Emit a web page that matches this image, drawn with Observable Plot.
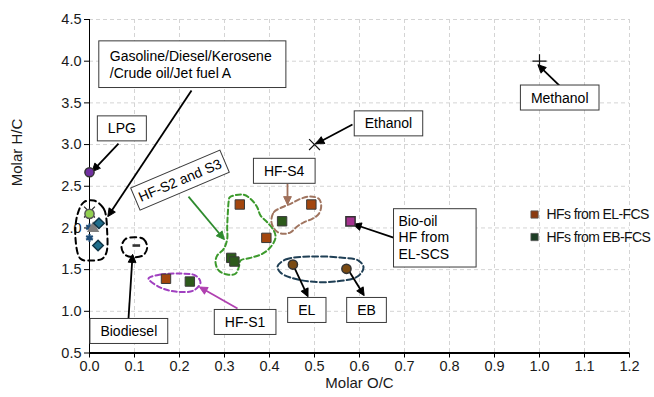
<!DOCTYPE html>
<html>
<head>
<meta charset="utf-8">
<script src="https://cdn.jsdelivr.net/npm/d3@7"></script>
<script src="https://cdn.jsdelivr.net/npm/@observablehq/plot@0.6"></script>
<style>
  html, body { margin: 0; padding: 0; background: #fff; overflow: hidden; }
  g[aria-description="legend"] text { letter-spacing: -0.6px; }
</style>
</head>
<body>
<div id="chart"></div>
<script>
// ---------- data ----------
const xTicks = [0.0, 0.1, 0.2, 0.3, 0.4, 0.5, 0.6, 0.7, 0.8, 0.9, 1.0, 1.1, 1.2];
const yTicks = [0.5, 1.0, 1.5, 2.0, 2.5, 3.0, 3.5, 4.0, 4.5];

// reference fuels and feedstocks (molar O/C, molar H/C)
const fuelNames = ["Crude oil", "LPG", "Gasoline", "Diesel", "Jet fuel A", "Kerosene", "Fuel oil A", "Fuel oil B",
                   "Biodiesel", "Ethanol", "Methanol", "Bio-oil HF from EL-SCS", "EL", "EB"];
const fuelOC = [0.000, 0.000, 0.000, 0.000, 0.000, 0.008, 0.021, 0.019, 0.104, 0.500, 1.000, 0.580, 0.452, 0.571];
const fuelHC = [2.190, 2.668, 2.169, 2.008, 1.881, 1.995, 2.056, 1.789, 1.789, 3.000, 4.000, 2.080, 1.561, 1.510];

// hydrothermal fractions
const elFcsOC = [0.170, 0.334, 0.393, 0.493];
const elFcsHC = [1.390, 2.281, 1.881, 2.281];
const ebFcsOC = [0.223, 0.315, 0.322, 0.428];
const ebFcsHC = [1.357, 1.641, 1.597, 2.080];

const seriesNames = ["HFs from EL-FCS", "HFs from EB-FCS"];

// annotation labels (anchor point in data units)
const labelTexts = ["Gasoline/Diesel/Kerosene\n/Crude oil/Jet fuel A", "LPG", "HF-S2 and S3", "HF-S4", "Ethanol",
                    "Methanol", "Bio-oil\nHF from\nEL-SCS", "EL", "EB", "Biodiesel", "HF-S1"];
const labelOC = [0.0451, 0.0719, 0.2013, 0.4326, 0.6644, 1.0449, 0.6867, 0.4827, 0.6156, 0.0874, 0.3456];
const labelHC = [3.968, 3.188, 2.568, 2.679, 3.248, 3.558, 1.891, 1.010, 1.010, 0.758, 0.866];

// arrows: from (OC1,HC1) to (OC2,HC2)
const arrowOf = ["Gasoline", "LPG", "HF-S2 and S3", "HF-S4", "Ethanol", "Methanol", "Bio-oil", "EL", "EB", "Biodiesel", "HF-S1"];
const arrowOC1 = [0.2267, 0.0644, 0.2200, 0.4400, 0.5844, 1.0444, 0.6756, 0.4511, 0.5733, 0.0867, 0.3289];
const arrowHC1 = [3.647, 3.012, 2.376, 2.529, 3.240, 3.707, 1.885, 1.573, 1.513, 0.914, 1.034];
const arrowOC2 = [0.0422, 0.0078, 0.2978, 0.4400, 0.5059, 0.9985, 0.5889, 0.4844, 0.6089, 0.0956, 0.2467];
const arrowHC2 = [2.149, 2.688, 1.873, 2.293, 3.016, 3.947, 2.041, 1.189, 1.201, 1.669, 1.285];

// dashed enclosures (outline points, O/C and H/C)
const petroOutlineOC = [0.0096, 0.0318, 0.0393, 0.0378, 0.0282, 0.0022, -0.0200, -0.0311, -0.0273, -0.0127];
const petroOutlineHC = [2.329, 2.229, 1.948, 1.709, 1.630, 1.609, 1.630, 1.869, 2.149, 2.308];
const biodieselOutlineOC = [0.100, 0.120, 0.1282, 0.120, 0.100, 0.080, 0.0711, 0.080];
const biodieselOutlineHC = [1.888, 1.867, 1.769, 1.675, 1.649, 1.675, 1.769, 1.867];
const s1OutlineOC = [0.1311, 0.1578, 0.2022, 0.2356, 0.2467, 0.2311, 0.1911, 0.1578];
const s1OutlineHC = [1.393, 1.441, 1.453, 1.429, 1.345, 1.249, 1.237, 1.285];
const s23OutlineOC = [0.3118, 0.3429, 0.3616, 0.3727, 0.3800, 0.3949, 0.4096, 0.4133, 0.4022, 0.3838, 0.3578, 0.3356,
                      0.3318, 0.3244, 0.3060, 0.2873, 0.2800, 0.2838, 0.2984, 0.3060, 0.3060, 0.3073, 0.3096];
const s23OutlineHC = [2.368, 2.397, 2.329, 2.248, 2.149, 2.068, 1.969, 1.881, 1.769, 1.689, 1.641, 1.609,
                      1.529, 1.450, 1.441, 1.489, 1.589, 1.669, 1.749, 1.869, 2.008, 2.169, 2.329];
const s4OutlineOC = [0.4044, 0.4096, 0.4282, 0.4467, 0.4689, 0.4911, 0.5096, 0.5149, 0.5096, 0.4949, 0.4762, 0.4616,
                     0.4467, 0.4318, 0.4156];
const s4OutlineHC = [2.068, 2.188, 2.248, 2.289, 2.349, 2.377, 2.349, 2.269, 2.169, 2.109, 2.068, 2.017,
                     1.948, 1.929, 1.960];
const feedOutlineOC = [0.4178, 0.4356, 0.4911, 0.5578, 0.5978, 0.6089, 0.5956, 0.5467, 0.4911, 0.4467, 0.4244];
const feedOutlineHC = [1.537, 1.621, 1.657, 1.645, 1.609, 1.525, 1.417, 1.357, 1.357, 1.405, 1.465];

// ---------- styles ----------
const diamondSym = { draw(ctx, size) { const d = Math.sqrt(size / 2); ctx.moveTo(0, -d); ctx.lineTo(d, 0); ctx.lineTo(0, d); ctx.lineTo(-d, 0); ctx.closePath(); } };
const dashSym = { draw(ctx, size) { const w = Math.sqrt(size) / 2; ctx.moveTo(-w, -1.3); ctx.lineTo(w, -1.3); ctx.lineTo(w, 1.3); ctx.lineTo(-w, 1.3); ctx.closePath(); } };

const fuelStyle = {
  "Crude oil": { symbol: "times", r: 5, stroke: "#222", strokeWidth: 1.2 },
  "LPG": { symbol: "circle", r: 4.6, fill: "#7030A0", stroke: "#333" },
  "Gasoline": { symbol: "circle", r: 4.6, fill: "#92D050", stroke: "#555" },
  "Diesel": { symbol: "asterisk", r: 3.6, stroke: "#1F4E79", strokeWidth: 2.2 },
  "Jet fuel A": { symbol: "asterisk", r: 3.6, stroke: "#1F4E79", strokeWidth: 2.2 },
  "Kerosene": { symbol: "triangle", r: 4.6, fill: "#7F7F7F" },
  "Fuel oil A": { symbol: diamondSym, r: 4.2, fill: "#1F6E8C", stroke: "#0E3345" },
  "Fuel oil B": { symbol: diamondSym, r: 4.2, fill: "#1F6E8C", stroke: "#0E3345" },
  "Biodiesel": { symbol: dashSym, r: 4.3, fill: "#333" },
  "Ethanol": { symbol: "times", r: 5, stroke: "#111", strokeWidth: 1.2 },
  "Methanol": { symbol: "plus", r: 4.6, stroke: "#111", strokeWidth: 1.2 },
  "Bio-oil HF from EL-SCS": { symbol: "square", r: 5.2, fill: "#A5318F", stroke: "#333" },
  "EL": { symbol: "circle", r: 4.6, fill: "#7A4A12", stroke: "#333" },
  "EB": { symbol: "circle", r: 4.6, fill: "#7A4A12", stroke: "#333" }
};
const seriesColor = { "HFs from EL-FCS": "#A3460E", "HFs from EB-FCS": "#2D5A1B" };
const legendColor = { "HFs from EL-FCS": "#8B3A10", "HFs from EB-FCS": "#1C3D24" };
const arrowColor = { "HF-S2 and S3": "#2E8B2E", "HF-S4": "#A0705A", "HF-S1": "#B040B0" };

// ---------- tables ----------
const fuels = fuelNames.map((n, i) => ({ name: n, oc: fuelOC[i], hc: fuelHC[i] }));
const elPts = elFcsOC.map((v, i) => ({ oc: v, hc: elFcsHC[i] }));
const ebPts = ebFcsOC.map((v, i) => ({ oc: v, hc: ebFcsHC[i] }));
const labels = labelTexts.map((t, i) => ({ text: t, oc: labelOC[i], hc: labelHC[i] }));
const arrows = arrowOf.map((n, i) => ({ name: n, x1: arrowOC1[i], y1: arrowHC1[i], x2: arrowOC2[i], y2: arrowHC2[i], color: arrowColor[n] || "#000" }));
const outline = (xs, ys) => xs.map((v, i) => ({ oc: v, hc: ys[i] }));

const enclosures = [
  { pts: outline(petroOutlineOC, petroOutlineHC), stroke: "#000", dash: "6,4" },
  { pts: outline(biodieselOutlineOC, biodieselOutlineHC), stroke: "#000", dash: "6,4" },
  { pts: outline(s1OutlineOC, s1OutlineHC), stroke: "#A040C0", dash: "5,3" },
  { pts: outline(s23OutlineOC, s23OutlineHC), stroke: "#3C9A2C", dash: "5,3" },
  { pts: outline(s4OutlineOC, s4OutlineHC), stroke: "#A07560", dash: "5,3" },
  { pts: outline(feedOutlineOC, feedOutlineHC), stroke: "#1F3F55", dash: "6,3" }
];

const rotLabels = labels.filter(d => d.text === "HF-S2 and S3");
const multiLabels = labels.filter(d => d.text.includes("\n"));
const plainLabels = labels.filter(d => !d.text.includes("\n") && d.text !== "HF-S2 and S3");

const marks = [
  Plot.gridX({ ticks: xTicks, stroke: "#d4d4d4", strokeOpacity: 1, strokeDasharray: "4,3" }),
  Plot.gridY({ ticks: yTicks, stroke: "#d4d4d4", strokeOpacity: 1, strokeDasharray: "4,3" }),
  Plot.axisX({ ticks: xTicks, tickFormat: d => d.toFixed(1), tickSize: 5, tickPadding: 3, label: null, fontSize: 14.5, fill: "#1a1a1a" }),
  Plot.axisY({ ticks: yTicks, tickFormat: d => d.toFixed(1), tickSize: 5, tickPadding: 3, label: null, fontSize: 14.5, fill: "#1a1a1a" }),
  Plot.ruleX([0], { stroke: "#000", strokeWidth: 1 }),
  Plot.ruleY([0.5], { stroke: "#000", strokeWidth: 2.2 }),
  ...enclosures.map(e => Plot.line(e.pts, { x: "oc", y: "hc", curve: "catmull-rom-closed", stroke: e.stroke, strokeWidth: 2, strokeDasharray: e.dash, fill: "none" })),
  Plot.link(arrows, { x1: "x1", y1: "y1", x2: "x2", y2: "y2", stroke: "color", strokeWidth: 1.8, markerEnd: "arrow" }),
  ...fuels.map(f => Plot.dot([f], { x: "oc", y: "hc", ...fuelStyle[f.name] })),
  Plot.dot(elPts, { x: "oc", y: "hc", symbol: "square", r: 5.3, fill: seriesColor["HFs from EL-FCS"], stroke: "#3a3a3a", strokeWidth: 1 }),
  Plot.dot(ebPts, { x: "oc", y: "hc", symbol: "square", r: 5.3, fill: seriesColor["HFs from EB-FCS"], stroke: "#3a3a3a", strokeWidth: 1 }),
  Plot.text(plainLabels, { x: "oc", y: "hc", text: "text", fontSize: 14, fill: "#000", textAnchor: "middle", ariaDescription: "boxed" }),
  Plot.text(multiLabels, { x: "oc", y: "hc", text: "text", fontSize: 14, lineHeight: 1.19, fill: "#000", textAnchor: "start", ariaDescription: "boxed" }),
  Plot.text(rotLabels, { x: "oc", y: "hc", text: "text", fontSize: 14, rotate: -23, fill: "#000", ariaDescription: "boxed" }),
  // legend
  Plot.dot(seriesNames, { x: () => 0.989, y: (d, i) => [2.161, 1.891][i], symbol: "square", r: 4.1, fill: d => legendColor[d], stroke: "#555", strokeWidth: 0.8 }),
  Plot.text(seriesNames, { x: () => 1.0156, y: (d, i) => [2.161, 1.891][i], text: d => d, textAnchor: "start", fontSize: 14, fill: "#111", ariaDescription: "legend" }),
  // axis titles
  Plot.text(["Molar O/C"], { frameAnchor: "bottom", dy: 35, text: d => d, fontSize: 15, fill: "#1a1a1a" }),
  Plot.text(["Molar H/C"], { frameAnchor: "left", dx: -72, rotate: -90, text: d => d, fontSize: 15, fill: "#1a1a1a" })
];

const chart = Plot.plot({
  width: 654,
  height: 397,
  marginLeft: 89,
  marginRight: 25,
  marginTop: 19,
  marginBottom: 44.5,
  x: { domain: [0, 1.2] },
  y: { domain: [0.5, 4.5] },
  color: { type: "identity" },
  style: { fontFamily: "'Liberation Sans', Arial, sans-serif", fontSize: "14px", background: "#fff", overflow: "hidden" },
  marks
});
document.getElementById("chart").appendChild(chart);

// boxes behind annotation texts
const NS = "http://www.w3.org/2000/svg";
const padFor = s => s.startsWith("Gasoline") ? [11, 14, 7, 7] : s.startsWith("Bio-oil") ? [5, 27, 4, 5] : s.startsWith("HF-S2") ? [4, 4, 4, 4] : [10.5, 10.5, 4.5, 4.5];
chart.querySelectorAll('g[aria-description="boxed"] text').forEach(t => {
  const b = t.getBBox();
  const [l, r, tp, bt] = padFor(t.textContent);
  const rect = document.createElementNS(NS, "rect");
  rect.setAttribute("x", b.x - l);
  rect.setAttribute("y", b.y - tp);
  rect.setAttribute("width", b.width + l + r);
  rect.setAttribute("height", b.height + tp + bt);
  rect.setAttribute("fill", "#fff");
  rect.setAttribute("stroke", "#3a3a3a");
  rect.setAttribute("stroke-width", "1");
  const tr = t.getAttribute("transform");
  if (tr) rect.setAttribute("transform", tr);
  t.parentNode.insertBefore(rect, t);
});
// filled arrow heads
chart.querySelectorAll("marker").forEach(m => {
  m.setAttribute("fill", m.getAttribute("stroke"));
  m.setAttribute("overflow", "visible");
  m.setAttribute("stroke-width", "0.8");
  const p = m.querySelector("path");
  if (p) p.setAttribute("d", "M-5.5,-3.1L1,0L-5.5,3.1Z");
});
</script>
</body>
</html>
